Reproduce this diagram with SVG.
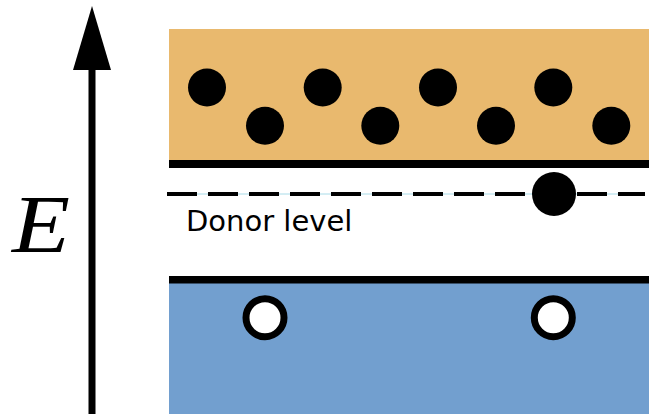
<svg xmlns="http://www.w3.org/2000/svg" width="652" height="414" viewBox="0 0 652 414">
  <style>
    .band-edge { fill: #000; }
    .electron { fill: #000; }
    .hole { fill: #fff; stroke: #000; stroke-width: 7; }
    .label { font-family: "DejaVu Sans", Verdana, sans-serif; font-size: 29px; fill: #000; }
  </style>
  <!-- energy axis -->
  <g id="energy-axis">
    <rect x="88.5" y="60" width="7" height="354" fill="#000"/>
    <polygon points="92,6 73,70 111,70" fill="#000"/>
    <text x="12" y="252" font-family="'Liberation Serif', 'Times New Roman', serif" font-style="italic" font-size="82" textLength="58" lengthAdjust="spacingAndGlyphs" fill="#000">E</text>
  </g>
  <!-- conduction band -->
  <g id="conduction-band">
    <rect x="169" y="29" width="480" height="131" fill="#e9b96e"/>
    <rect class="band-edge" x="169" y="160" width="480" height="8"/>
    <circle class="electron" cx="207" cy="87.5" r="19"/>
    <circle class="electron" cx="322.7" cy="87.5" r="19"/>
    <circle class="electron" cx="438" cy="87.5" r="19"/>
    <circle class="electron" cx="553.3" cy="87.5" r="19"/>
    <circle class="electron" cx="265" cy="125.7" r="19"/>
    <circle class="electron" cx="380.3" cy="125.7" r="19"/>
    <circle class="electron" cx="496" cy="125.7" r="19"/>
    <circle class="electron" cx="611.3" cy="125.7" r="19"/>
  </g>
  <!-- donor level -->
  <g id="donor-level">
    <line x1="167" y1="194" x2="645" y2="194" stroke="#a8dbe8" stroke-width="1"/>
    <line x1="167" y1="194" x2="645" y2="194" stroke="#000" stroke-width="4" stroke-dasharray="30 11"/>
    <circle class="electron" cx="554" cy="194" r="22"/>
    <text class="label" x="186" y="230.5">Donor level</text>
  </g>
  <!-- valence band -->
  <g id="valence-band">
    <rect x="169" y="283" width="480" height="131" fill="#729fcf"/>
    <rect class="band-edge" x="169" y="276" width="480" height="7.5"/>
    <circle class="hole" cx="265" cy="317.7" r="19"/>
    <circle class="hole" cx="553.3" cy="317.7" r="19"/>
  </g>
</svg>
